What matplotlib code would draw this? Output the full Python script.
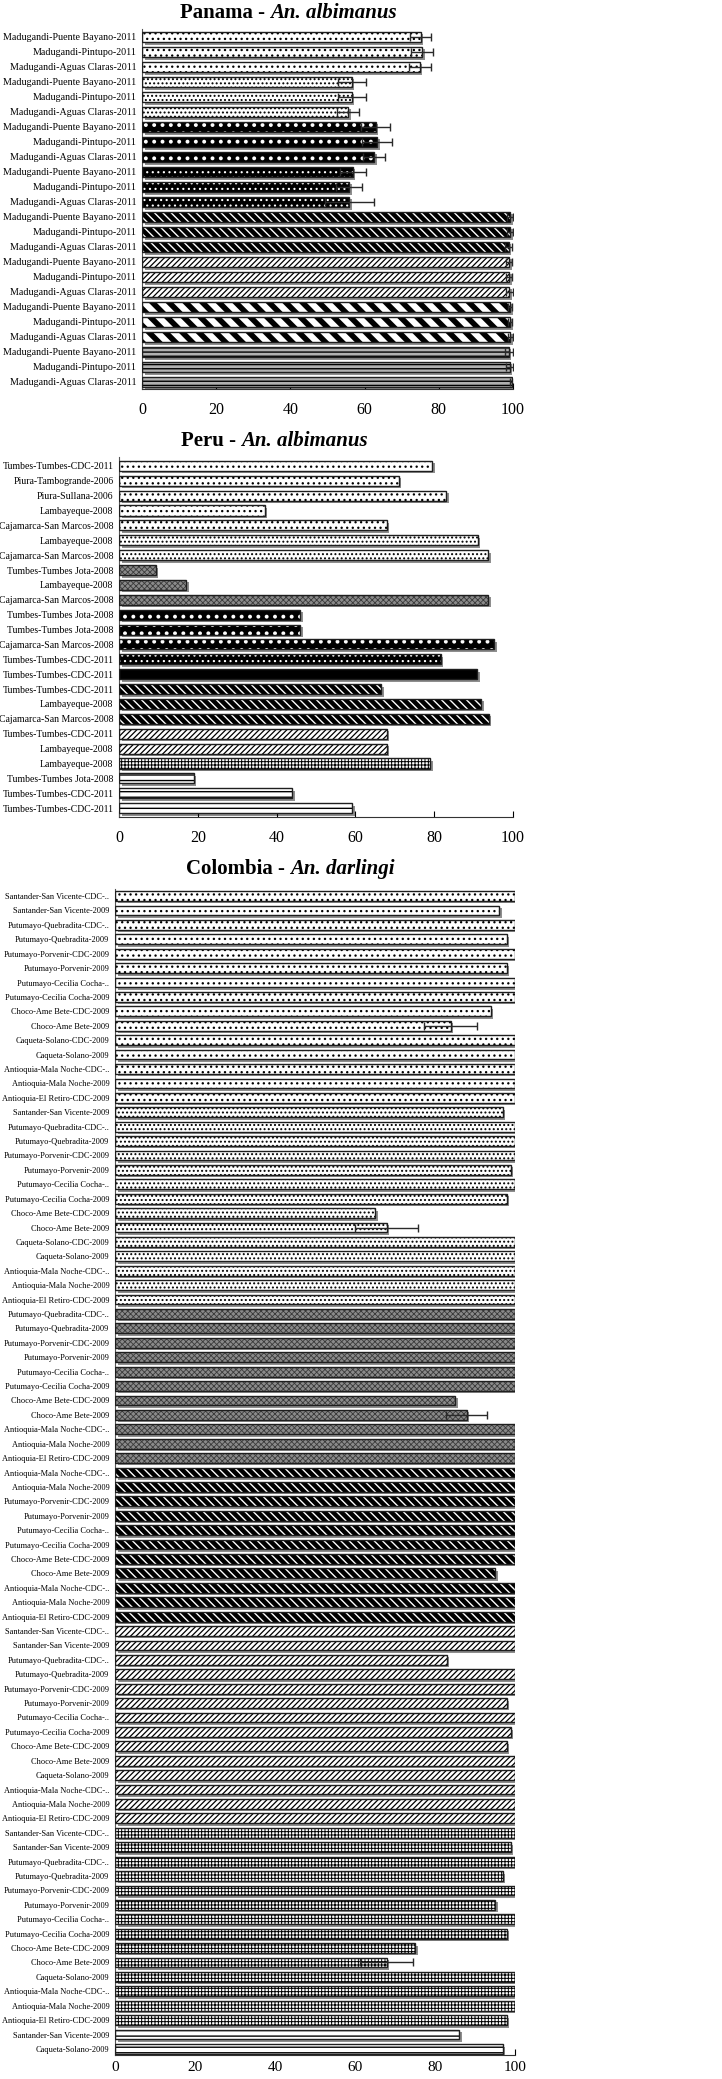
import numpy as np
import matplotlib
matplotlib.use('Agg')
import matplotlib.pyplot as plt
import matplotlib.transforms as mtransforms

plt.rcParams['font.family'] = 'serif'
plt.rcParams['font.serif'] = ['Liberation Serif', 'DejaVu Serif']
plt.rcParams['hatch.linewidth'] = 0.9

# ---------------- data ----------------
panama_sites = ['Madugandi-Puente Bayano-2011', 'Madugandi-Pintupo-2011', 'Madugandi-Aguas Claras-2011']
panama_labels = panama_sites * 8
panama_values = [75.1, 75.5, 74.9, 56.5, 56.5, 55.6, 63.0, 63.4, 62.6, 56.8, 55.8, 55.9,
                 99.2, 99.2, 98.8, 99.0, 99.0, 99.0, 99.2, 99.2, 99.3, 98.9, 99.1, 99.8]
panama_errors = [2.8, 3.0, 3.0, 3.8, 3.8, 3.0, 3.9, 4.1, 2.9, 3.5, 3.5, 6.5,
                 0.8, 0.8, 0.9, 0.8, 0.8, 0.9, 0.6, 0.6, 0.6, 1.1, 1.0, 0.6]
panama_groups = [3, 3, 3, 3, 3, 3, 3, 3]

peru_labels = ['Tumbes-Tumbes-CDC-2011', 'Piura-Tambogrande-2006', 'Piura-Sullana-2006',
               'Lambayeque-2008', 'Cajamarca-San Marcos-2008', 'Lambayeque-2008',
               'Cajamarca-San Marcos-2008', 'Tumbes-Tumbes Jota-2008', 'Lambayeque-2008',
               'Cajamarca-San Marcos-2008', 'Tumbes-Tumbes Jota-2008', 'Tumbes-Tumbes Jota-2008',
               'Cajamarca-San Marcos-2008', 'Tumbes-Tumbes-CDC-2011', 'Tumbes-Tumbes-CDC-2011',
               'Tumbes-Tumbes-CDC-2011', 'Lambayeque-2008', 'Cajamarca-San Marcos-2008',
               'Tumbes-Tumbes-CDC-2011', 'Lambayeque-2008', 'Lambayeque-2008',
               'Tumbes-Tumbes Jota-2008', 'Tumbes-Tumbes-CDC-2011', 'Tumbes-Tumbes-CDC-2011']
peru_values = [79.5, 71.0, 83.1, 37.0, 68.0, 91.0, 93.7, 9.3, 17.1, 93.7, 46.0, 46.0,
               95.2, 81.6, 90.9, 66.5, 92.0, 93.8, 68.0, 68.0, 79.0, 19.0, 44.0, 59.2]
peru_errors = [0] * 24
peru_groups = [5, 2, 3, 3, 1, 1, 3, 2, 1, 3]

colombia_labels = [
    'Santander-San Vicente-CDC-..', 'Santander-San Vicente-2009', 'Putumayo-Quebradita-CDC-..',
    'Putumayo-Quebradita-2009', 'Putumayo-Porvenir-CDC-2009', 'Putumayo-Porvenir-2009',
    'Putumayo-Cecilia Cocha-..', 'Putumayo-Cecilia Cocha-2009', 'Choco-Ame Bete-CDC-2009',
    'Choco-Ame Bete-2009', 'Caqueta-Solano-CDC-2009', 'Caqueta-Solano-2009',
    'Antioquia-Mala Noche-CDC-..', 'Antioquia-Mala Noche-2009', 'Antioquia-El Retiro-CDC-2009',
    'Santander-San Vicente-2009', 'Putumayo-Quebradita-CDC-..', 'Putumayo-Quebradita-2009',
    'Putumayo-Porvenir-CDC-2009', 'Putumayo-Porvenir-2009', 'Putumayo-Cecilia Cocha-..',
    'Putumayo-Cecilia Cocha-2009', 'Choco-Ame Bete-CDC-2009', 'Choco-Ame Bete-2009',
    'Caqueta-Solano-CDC-2009', 'Caqueta-Solano-2009', 'Antioquia-Mala Noche-CDC-..',
    'Antioquia-Mala Noche-2009', 'Antioquia-El Retiro-CDC-2009',
    'Putumayo-Quebradita-CDC-..', 'Putumayo-Quebradita-2009', 'Putumayo-Porvenir-CDC-2009',
    'Putumayo-Porvenir-2009', 'Putumayo-Cecilia Cocha-..', 'Putumayo-Cecilia Cocha-2009',
    'Choco-Ame Bete-CDC-2009', 'Choco-Ame Bete-2009', 'Antioquia-Mala Noche-CDC-..',
    'Antioquia-Mala Noche-2009', 'Antioquia-El Retiro-CDC-2009',
    'Antioquia-Mala Noche-CDC-..', 'Antioquia-Mala Noche-2009', 'Putumayo-Porvenir-CDC-2009',
    'Putumayo-Porvenir-2009', 'Putumayo-Cecilia Cocha-..', 'Putumayo-Cecilia Cocha-2009',
    'Choco-Ame Bete-CDC-2009', 'Choco-Ame Bete-2009', 'Antioquia-Mala Noche-CDC-..',
    'Antioquia-Mala Noche-2009', 'Antioquia-El Retiro-CDC-2009',
    'Santander-San Vicente-CDC-..', 'Santander-San Vicente-2009', 'Putumayo-Quebradita-CDC-..',
    'Putumayo-Quebradita-2009', 'Putumayo-Porvenir-CDC-2009', 'Putumayo-Porvenir-2009',
    'Putumayo-Cecilia Cocha-..', 'Putumayo-Cecilia Cocha-2009', 'Choco-Ame Bete-CDC-2009',
    'Choco-Ame Bete-2009', 'Caqueta-Solano-2009', 'Antioquia-Mala Noche-CDC-..',
    'Antioquia-Mala Noche-2009', 'Antioquia-El Retiro-CDC-2009',
    'Santander-San Vicente-CDC-..', 'Santander-San Vicente-2009', 'Putumayo-Quebradita-CDC-..',
    'Putumayo-Quebradita-2009', 'Putumayo-Porvenir-CDC-2009', 'Putumayo-Porvenir-2009',
    'Putumayo-Cecilia Cocha-..', 'Putumayo-Cecilia Cocha-2009', 'Choco-Ame Bete-CDC-2009',
    'Choco-Ame Bete-2009', 'Caqueta-Solano-2009', 'Antioquia-Mala Noche-CDC-..',
    'Antioquia-Mala Noche-2009', 'Antioquia-El Retiro-CDC-2009',
    'Santander-San Vicente-2009', 'Caqueta-Solano-2009']
colombia_values = [100, 96.0, 100, 97.9, 100, 97.9, 100, 100, 93.9, 83.9, 100, 100, 100, 100, 100,
                   96.9, 100, 100, 100, 98.9, 100, 97.9, 65.0, 67.9, 100, 100, 100, 100, 100,
                   100, 100, 100, 100, 100, 100, 85.0, 87.9, 100, 100, 100,
                   100, 100, 100, 100, 100, 100, 100, 95.0, 100, 100, 100,
                   100, 100, 82.9, 100, 100, 97.9, 100, 98.9, 97.9, 100, 100, 100, 100, 100,
                   100, 98.9, 100, 96.9, 100, 95.0, 100, 97.9, 75.0, 67.9, 100, 100, 100, 97.9,
                   86.0, 96.9]
colombia_errors = [0] * 81
colombia_errors[9] = 6.6
colombia_errors[23] = 7.9
colombia_errors[36] = 5.2
colombia_errors[74] = 6.6
colombia_groups = [15, 14, 11, 11, 14, 14, 2]

ticks = [0, 20, 40, 60, 80, 100]

# fill styles: (face, hatch colour, hatch, hatch linewidth)
STYLES = {
    'sparse': ('white', 'black', '...', 0.9),
    'dense': ('white', 'black', '....', 0.9),
    'bigsq': ('black', 'white', '..', 1.6),
    'finedot': ('black', 'white', '...', 0.8),
    'gray': ('#8a8a8a', '#3a3a3a', 'xxxxxx', 0.6),
    'black': ('black', 'black', None, 0.9),
    'darkdiag': ('black', 'white', '\\\\\\\\', 1.0),
    'lightdiag': ('white', 'black', '//////', 0.9),
    'widediag': ('white', 'black', '\\\\', 4.0),
    'hstripe_g': ('#b0b0b0', 'black', '----', 1.0),
    'hstripe': ('white', 'black', '---', 1.0),
    'grid': ('white', 'black', '+++++', 0.7),
}

fig = plt.figure(figsize=(7.22, 20.79), dpi=100)
W, H = 722.0, 2079.0


def panel(box, labels, values, errors, groups, styles, pads, label_size, xpad=9, xsize=11.5):
    l, t, r, b = box
    ax = fig.add_axes([l / W, 1 - b / H, (r - l) / W, (b - t) / H])
    n = len(values)
    y = np.arange(n)
    hgt = 0.68
    shadow = ax.transData + mtransforms.ScaledTranslation(2.5 / 100, -2.5 / 100, fig.dpi_scale_trans)
    ax.barh(y, values, height=hgt, color='#8e8e8e', linewidth=0, transform=shadow, zorder=1)
    style_seq = []
    for g, s in zip(groups, styles):
        style_seq += [s] * g
    for i in range(n):
        face, hc, hatch, hlw = STYLES[style_seq[i]]
        bars = ax.barh(y[i], values[i], height=hgt, color=face, edgecolor=hc,
                       hatch=hatch, linewidth=0, zorder=2)
        for p in bars:
            if hasattr(p, 'set_hatch_linewidth'):
                p.set_hatch_linewidth(hlw)
    ax.barh(y, values, height=hgt, fill=False, edgecolor='#1e1e1e', linewidth=1.0, zorder=3)
    err = np.array(errors, dtype=float)
    m = err > 0
    if m.any():
        ax.errorbar(np.array(values)[m], y[m], xerr=err[m], fmt='none', ecolor='#2a2a2a',
                    elinewidth=1.0, capsize=3, capthick=1.0, zorder=4)
    ax.set_xlim(0, 100)
    ax.set_ylim(n - 1 + pads[1], -pads[0])
    ax.set_yticks(y)
    ax.set_yticklabels(labels, fontsize=label_size)
    ax.set_xticks(ticks)
    ax.tick_params(axis='y', length=0, pad=4)
    ax.tick_params(axis='x', direction='in', length=4, pad=xpad, labelsize=xsize)
    for s in ['top', 'right']:
        ax.spines[s].set_visible(False)
    ax.spines['left'].set_color('#555555')
    ax.spines['bottom'].set_color('#333333')
    return ax


def title(x, y, place, species):
    t1 = fig.text(x / W, 1 - y / H, place + ' - ', fontsize=15, fontweight='bold',
                  ha='left', va='baseline')
    r = fig.canvas.get_renderer()
    bb = t1.get_window_extent(renderer=r)
    fig.text(bb.x1 / W, 1 - y / H, species, fontsize=15, fontweight='bold',
             style='italic', ha='left', va='baseline')


panel((142, 29, 513, 389), panama_labels, panama_values, panama_errors, panama_groups,
      ['sparse', 'dense', 'bigsq', 'finedot', 'darkdiag', 'lightdiag', 'widediag', 'hstripe_g'],
      (0.53, 0.47), 7.2)
panel((119, 457, 513, 817), peru_labels, peru_values, peru_errors, peru_groups,
      ['sparse', 'dense', 'gray', 'bigsq', 'finedot', 'black', 'darkdiag', 'lightdiag', 'grid', 'hstripe'],
      (0.6, 0.6), 7.0)
panel((115, 889, 515, 2055), colombia_labels, colombia_values, colombia_errors, colombia_groups,
      ['sparse', 'dense', 'gray', 'darkdiag', 'lightdiag', 'grid', 'hstripe'],
      (0.49, 0.42), 6.0, xpad=4, xsize=11)

title(180, 18, 'Panama', 'An. albimanus')
title(181, 446, 'Peru', 'An. albimanus')
title(186, 874, 'Colombia', 'An. darlingi')

fig.savefig('out.png', dpi=100)
